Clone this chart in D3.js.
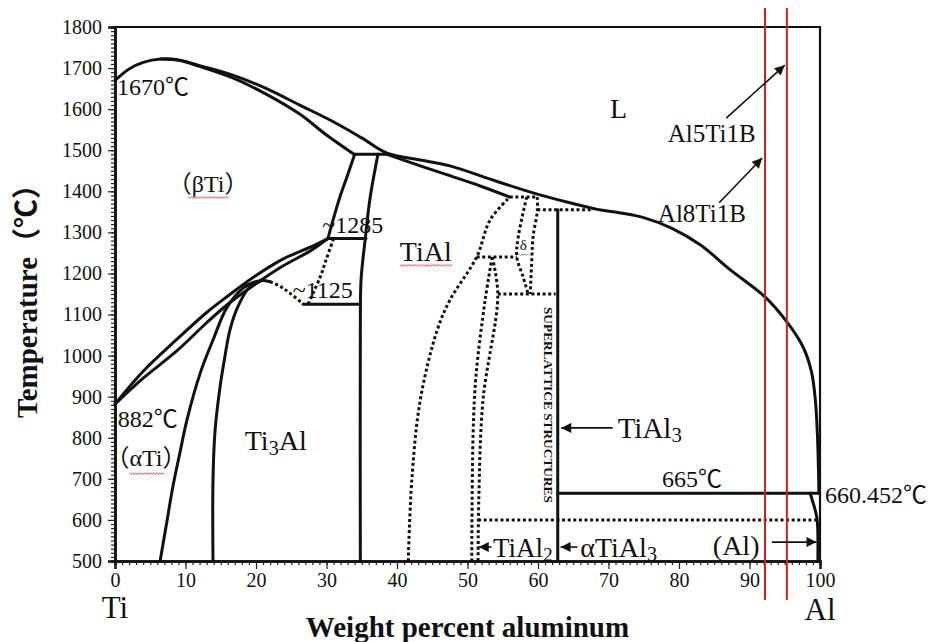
<!DOCTYPE html>
<html><head><meta charset="utf-8">
<script src="https://cdn.jsdelivr.net/npm/d3@7"></script>
<style>
body{margin:0;background:#fff}
svg{display:block}
</style>
</head><body>
<svg id="chart" width="930" height="642"></svg>
<script>
// ---------- data (wt% Al, temperature °C) ----------
const xMajorTicks = d3.range(0, 101, 10);
const xMinorTicks = d3.range(0, 101, 1);
const yMajorTicks = d3.range(500, 1801, 100);
const yMinorTicks = d3.range(500, 1801, 10);

const liquidus = [[0,1670],[2,1698],[4,1714],[6.5,1722],[9,1720],[12,1706],[16.7,1683],[21.5,1650],[26.2,1610],[30.9,1570],[35,1530],[38.6,1493],[43.3,1476],[47.5,1462],[54,1425],[59.9,1393],[64.5,1372],[68.4,1356],[71.5,1348],[75,1336],[79,1310],[83,1270],[87.2,1210],[92.2,1143],[95.3,1082],[97.6,1021],[98.8,960],[99.35,890],[99.65,800],[99.85,665]];
const betaSolidus = [[6.5,1722],[9,1719],[12,1704],[16.7,1676],[21.5,1636],[26.2,1588],[30,1537],[34,1489]];
const peritectic1490 = [[34,1490],[38.6,1490]];
const tialSolidus = [[38.6,1490],[43.3,1462],[47.5,1438],[51.8,1413],[56,1386]];
const alphaLeft = [[34,1490],[32.9,1435],[31.9,1386],[30.2,1285]];
const tialLeft = [[37.3,1490],[36.2,1386],[35.5,1285],[34.9,1184],[34.8,1062],[34.8,500]];
const eutectoid1285 = [[30.2,1285],[35.6,1285]];
const betaTransus = [[0,882],[4,962],[8.8,1040],[13,1105],[16,1145],[20,1195],[23.8,1235],[27.7,1264],[30.2,1285]];
const alphaTransus = [[0,882],[4,945],[8.8,1012],[13,1080],[16,1125],[20,1175],[23.8,1218],[27.7,1255],[30.2,1285]];
const ti3alLeft = [[6.4,500],[7.4,600],[8.2,680],[9.2,763],[10.2,843],[12.1,958],[13.9,1038],[15.9,1118],[18.2,1165],[19.6,1178],[20.9,1183],[22,1180]];
const ti3alRight = [[13.9,500],[13.9,697],[14.2,819],[14.9,924],[15.5,989],[16.3,1062],[17.4,1118],[19.1,1167],[20.9,1183]];
const eutectoid1125 = [[26.7,1125],[34.8,1125]];
const ti3alDotted = [[22,1180],[23.5,1168],[24.8,1152],[26.7,1126]];
const alphaDotted = [[31,1285],[30,1236],[29.1,1191],[27.4,1126]];
const tialDotted = [[41.6,500],[42.1,697],[43.3,892],[45.7,1062],[47.5,1135],[51.3,1240],[53.2,1330],[56,1386]];
const peritectic1390 = [[56,1386],[59.9,1386]];
const deltaLeft = [[58.4,1386],[57.2,1289],[57,1240],[57.9,1191],[58.6,1150]];
const deltaRight = [[59.9,1386],[59.9,1352],[59.3,1289],[59.1,1225],[58.9,1150]];
const peritectic1355 = [[59.9,1355],[67.8,1355]];
const tial3Line = [[62.8,500],[62.8,1355]];
const dotted1240 = [[51.3,1240],[57,1240]];
const dotted1150 = [[54.3,1150],[62.5,1150]];
const tial2Left = [[53.5,1240],[52.5,1135],[51.2,950],[50.8,812],[50.6,500]];
const tial2Right = [[53.5,1240],[54.3,1148],[52.2,892],[51.6,649],[51.5,500]];
const dotted600 = [[51.5,600],[99.6,600]];
const eutectic665 = [[62.8,665],[99.85,665]];
const alSolvus = [[98.6,665],[99.3,625],[99.6,600],[99.7,500]];
const redLines = [92.2, 95.3];

const solidCurves = [liquidus, betaSolidus, peritectic1490, tialSolidus, alphaLeft, tialLeft, eutectoid1285, betaTransus, alphaTransus, ti3alLeft, ti3alRight, eutectoid1125, tial3Line, eutectic665, alSolvus];
const dottedCurves = [ti3alDotted, alphaDotted, tialDotted, peritectic1390, deltaLeft, deltaRight, peritectic1355, dotted1240, dotted1150, tial2Left, tial2Right, dotted600];

// annotation texts and their anchors in data units
const labelTexts = ["1670℃","（βTi）","882℃","（αTi）","Ti_3Al","~1285","~1125","TiAl","δ","665℃","660.452℃","L","Al5Ti1B","Al8Ti1B","TiAl_3","TiAl_2","αTiAl_3","(Al)"];
const labelAnchors = [[0.28,1634],[13.2,1398],[0.4,826],[4.4,731],[18.4,770],[29.4,1298],[25.2,1140],[40.4,1230],[57.4,1257],[77.6,680],[100.7,641],[70.2,1578],[78.4,1520],[77.0,1325],[71.3,800],[53.6,510],[66.0,510],[84.8,515]];
const arrowFrom = [[86.7,1578],[85.7,1372],[70.6,824],[53.4,534],[65.6,534],[93.2,546]];
const arrowTo   = [[95.0,1707],[91.8,1481],[63.3,824],[51.6,534],[63.2,534],[99.5,546]];
const squiggleSpans = [[10.4,16.3,1386],[2.1,7.1,714],[40.4,47.9,1221],[57.3,58.9,1247]];
const squiggleColors = ["#d33","#d33","#d33","#4a4"];

// ---------- drawing ----------
const FONT = '"Liberation Serif","Times New Roman","Noto Sans CJK SC",serif';
const svg = d3.select("#chart");
const x = d3.scaleLinear().domain([0,100]).range([115,820]);
const y = d3.scaleLinear().domain([500,1800]).range([561,27]);

const defs = svg.append("defs");
defs.append("marker").attr("id","arr").attr("viewBox","0 0 10 10")
  .attr("refX",10).attr("refY",5).attr("markerWidth",13).attr("markerHeight",10)
  .attr("markerUnits","userSpaceOnUse").attr("orient","auto")
  .append("path").attr("d","M0,0L10,5L0,10z").attr("fill","#111");

const line = d3.line().x(d=>x(d[0])).y(d=>y(d[1])).curve(d3.curveCatmullRom.alpha(0.5));

// axes: minor then major
svg.append("g").attr("transform",`translate(0,${y(500)})`)
  .call(d3.axisBottom(x).tickValues(xMinorTicks).tickSize(4).tickFormat(""));
svg.append("g").attr("transform",`translate(0,${y(500)})`)
  .call(d3.axisBottom(x).tickValues(xMajorTicks).tickSize(8).tickPadding(4).tickFormat(d3.format("d")));
svg.append("g").attr("transform",`translate(${x(0)},0)`)
  .call(d3.axisLeft(y).tickValues(yMinorTicks).tickSize(4).tickFormat(""));
svg.append("g").attr("transform",`translate(${x(0)},0)`)
  .call(d3.axisLeft(y).tickValues(yMajorTicks).tickSize(7).tickPadding(6).tickFormat(d3.format("d")));
svg.selectAll(".domain").attr("stroke","#111").attr("stroke-width",2.5);
svg.selectAll(".tick line").attr("stroke","#222").attr("stroke-width",1.2);
svg.selectAll(".tick text").style("font-size","20px").attr("fill","#222");

// frame top/right
svg.append("path").attr("d",`M${x(0)},${y(1800)}H${x(100)}V${y(500)}`)
  .attr("fill","none").attr("stroke","#111").attr("stroke-width",2.2);

// phase boundaries
svg.append("g").selectAll("path").data(solidCurves).join("path")
  .attr("d",line).attr("fill","none").attr("stroke","#111").attr("stroke-width",3)
  .attr("stroke-linecap","round").attr("stroke-linejoin","round");
svg.append("g").selectAll("path").data(dottedCurves).join("path")
  .attr("d",line).attr("fill","none").attr("stroke","#111").attr("stroke-width",3)
  .attr("stroke-dasharray","3,2.6");

// red composition lines
svg.append("g").selectAll("line").data(redLines).join("line")
  .attr("x1",d=>x(d)).attr("x2",d=>x(d)).attr("y1",y(1846)).attr("y2",y(405))
  .attr("stroke","#d21f1f").attr("stroke-width",2);

// arrows
svg.append("g").selectAll("line").data(arrowFrom).join("line")
  .attr("x1",d=>x(d[0])).attr("y1",d=>y(d[1]))
  .attr("x2",(d,i)=>x(arrowTo[i][0])).attr("y2",(d,i)=>y(arrowTo[i][1]))
  .attr("stroke","#111").attr("stroke-width",1.6).attr("marker-end","url(#arr)");

// labels
const labelSize = [24,24,24,24,28,24,24,28,15,24,24,28,25,25,29,27,28,28];
const lg = svg.append("g");
labelTexts.forEach((t,i)=>{
  const a = labelAnchors[i];
  const tx = lg.append("text").attr("x",x(a[0])).attr("y",y(a[1]))
    .style("font-size",labelSize[i]+"px")
    .attr("text-anchor",(i===1||i===3)?"middle":"start");
  const parts = t.split("_");
  if(parts.length===1){ tx.text(t); }
  else{
    tx.append("tspan").text(parts[0]);
    tx.append("tspan").text(parts[1][0]).style("font-size","0.72em").attr("dy","0.22em");
    if(parts[1].length>1) tx.append("tspan").text(parts[1].slice(1)).attr("dy","-0.16em");
  }
});

// spell-check squiggles
squiggleSpans.forEach((s,i)=>{
  const x1=x(s[0]), x2=x(s[1]), yy=y(s[2]);
  let d=`M${x1},${yy}`; let k=0;
  for(let xx=x1+1.5; xx<=x2; xx+=1.5){ k++; d+=`L${xx},${yy+(k%2?1.2:-0.2)}`; }
  svg.append("path").attr("d",d).attr("fill","none").attr("stroke",squiggleColors[i]).attr("stroke-width",0.9);
});

// rotated superlattice text
svg.append("text").attr("transform",`translate(${x(61.4)},${y(880)}) rotate(90)`)
  .attr("text-anchor","middle").attr("dominant-baseline","central")
  .attr("textLength",196).attr("lengthAdjust","spacingAndGlyphs")
  .style("font-size","12.5px").style("font-weight","bold").text("SUPERLATTICE STRUCTURES");

// axis titles and element labels
svg.append("text").attr("x",x(50)).attr("y",637).attr("text-anchor","middle")
  .style("font-size","29px").style("font-weight","bold").text("Weight percent aluminum");
svg.append("text").attr("transform",`translate(37,418) rotate(-90)`)
  .style("font-size","29px").style("font-weight","bold").text("Temperature（℃）");
svg.append("text").attr("x",x(0)).attr("y",618).attr("text-anchor","middle")
  .style("font-size","31px").text("Ti");
svg.append("text").attr("x",x(100)).attr("y",620).attr("text-anchor","middle")
  .style("font-size","31px").text("Al");

// force serif on every text, including axis tick labels
svg.selectAll("g").attr("font-family",null);
svg.selectAll("text").style("font-family",FONT).style("fill","#111");
</script>
</body></html>
